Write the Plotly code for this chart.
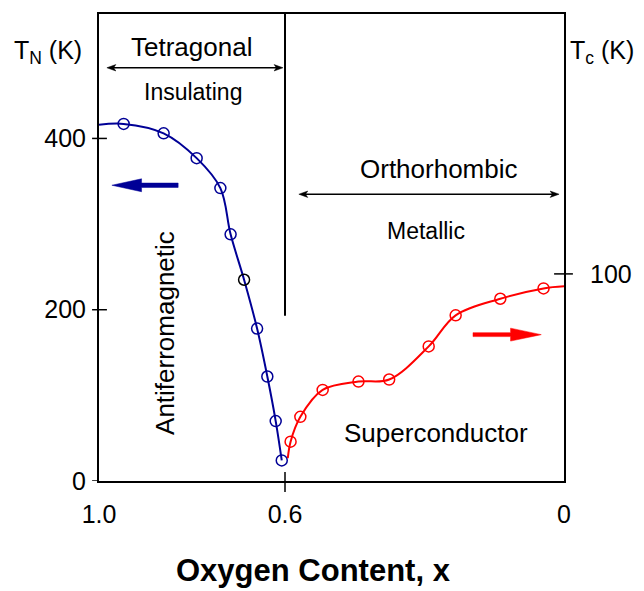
import plotly.graph_objects as go

# Neel temperature T_N of the antiferromagnetic insulator
x_afm = [0.947, 0.861, 0.790, 0.739, 0.717, 0.688, 0.660, 0.638, 0.620, 0.607]
tn_afm = [417, 406, 377, 342, 288, 235, 178, 122, 70, 24]
# guide curve for T_N, starting at the x = 1.0 edge
x_afm_curve = [1.0] + x_afm
tn_afm_curve = [416] + tn_afm

# superconducting transition temperature T_c
x_sc = [0.588, 0.567, 0.519, 0.442, 0.376, 0.291, 0.233, 0.137, 0.044]
tc_sc = [19, 31, 44, 48, 49, 65, 80, 88, 93]
# guide curve for T_c, from the onset to the x = 0 edge
x_sc_curve = [0.594] + x_sc + [0.0]
tc_sc_curve = [11] + tc_sc + [94]

# axes
x_range = [1.0, 0.0]
x_ticks = [1.0, 0.6, 0.0]
x_tick_text = ["1.0", "0.6", "0"]
phase_boundary = 0.6
tn_range = [0, 545.3]
tn_ticks = [0, 200, 400]
tc_range = [0, 225.5]
tc_ticks = [100]

NAVY = "#000096"
RED = "#ff0000"
FONT = "Liberation Sans, Arial, sans-serif"

W, H = 644, 591
ML, MR, MT, MB = 99, 75, 12, 110
PW, PH = W - ML - MR, H - MT - MB  # plot area in pixels


def dx(px):
    """horizontal pixel offset -> fraction of the x domain"""
    return px / PW


def dy(px):
    """vertical pixel offset -> fraction of the y domain"""
    return px / PH


fig = go.Figure()

# T_N curve and points (left axis)
fig.add_trace(go.Scatter(
    x=x_afm_curve, y=tn_afm_curve, mode="lines",
    line=dict(color=NAVY, width=2, shape="spline", smoothing=1),
    hoverinfo="skip", showlegend=False, yaxis="y"))
afm_colors = [NAVY] * len(x_afm)
afm_colors[5] = "black"
fig.add_trace(go.Scatter(
    x=x_afm, y=tn_afm, mode="markers",
    marker=dict(symbol="circle-open", size=11, color=afm_colors,
                line=dict(width=1.5)),
    showlegend=False, yaxis="y", cliponaxis=False))

# T_c curve and points (right axis)
fig.add_trace(go.Scatter(
    x=x_sc_curve, y=tc_sc_curve, mode="lines",
    line=dict(color=RED, width=2, shape="spline", smoothing=1),
    hoverinfo="skip", showlegend=False, yaxis="y2"))
fig.add_trace(go.Scatter(
    x=x_sc, y=tc_sc, mode="markers",
    marker=dict(symbol="circle-open", size=11, color=RED,
                line=dict(width=1.5)),
    showlegend=False, yaxis="y2", cliponaxis=False))

shapes = []
# tick marks crossing the frame
for v in tn_ticks:
    inner = 0 if v == 0 else dx(8)
    shapes.append(dict(type="line", xref="x domain", yref="y",
                       x0=-dx(7), x1=inner, y0=v, y1=v,
                       line=dict(color="black", width=1.5)))
for v in tc_ticks:
    shapes.append(dict(type="line", xref="x domain", yref="y2",
                       x0=1 - dx(10), x1=1 + dx(9), y0=v, y1=v,
                       line=dict(color="black", width=1.5)))
shapes.append(dict(type="line", xref="x", yref="y domain",
                   x0=phase_boundary, x1=phase_boundary,
                   y0=-dy(11), y1=dy(9),
                   line=dict(color="black", width=1.5)))

# tetragonal / orthorhombic boundary
shapes.append(dict(type="line", xref="x", yref="y domain",
                   x0=phase_boundary, x1=phase_boundary,
                   y0=dy(166), y1=1,
                   line=dict(color="black", width=2)))


def poly(pts):
    """closed SVG path through points given in plot-area pixels"""
    return "M" + " L".join(f"{dx(px):.4f},{dy(py):.4f}" for px, py in pts) + " Z"


def arrow_path(tip, tail, y, head_len=30, head_half=6.5, shaft_half=2.2):
    """thick one-sided arrow, all lengths in pixels"""
    s = 1 if tail > tip else -1
    base = tip + s * head_len
    return poly([(tip, y), (base, y + head_half), (base, y + shaft_half),
                 (tail, y + shaft_half), (tail, y - shaft_half),
                 (base, y - shaft_half), (base, y - head_half)])


# direction arrows pointing to the relevant axis
shapes.append(dict(type="path", xref="x domain", yref="y domain",
                   path=arrow_path(13, 80, 297),
                   fillcolor=NAVY, line=dict(color=NAVY, width=0.5)))
shapes.append(dict(type="path", xref="x domain", yref="y domain",
                   path=arrow_path(447, 378, 147, head_len=31, shaft_half=2),
                   fillcolor=RED, line=dict(color=RED, width=0.5)))


def span_arrow(x0, x1, y, head_len=9, head_half=3.2):
    """thin double-headed arrow marking the extent of a phase"""
    shapes.append(dict(type="line", xref="x domain", yref="y domain",
                       x0=dx(x0 + 3), x1=dx(x1 - 3), y0=dy(y), y1=dy(y),
                       line=dict(color="black", width=1.5)))
    for tip, base in ((x0, x0 + head_len), (x1, x1 - head_len)):
        shapes.append(dict(
            type="path", xref="x domain", yref="y domain",
            path=poly([(tip, y), (base, y + head_half),
                       (base + (tip - base) * 0.25, y),
                       (base, y - head_half)]),
            fillcolor="black", line=dict(color="black", width=0.5)))


span_arrow(8, 186, 415)
span_arrow(202, 465, 288)

annotations = []


def label(text, px, py, size, angle=0):
    annotations.append(dict(
        text=text, xref="x domain", yref="y domain", x=dx(px), y=dy(py),
        showarrow=False, xanchor="center", yanchor="middle", textangle=angle,
        font=dict(family=FONT, size=size, color="black")))


label("Tetragonal", 93, 436, 26)
label("Insulating", 95, 391, 23)
label("Orthorhombic", 344, 313, 26)
label("Metallic", 331, 251, 23)
label("Superconductor", 341, 48, 26)
label("Antiferromagnetic", 66, 149, 26, angle=-90)
label("T<sub>N</sub> (K)", -52, 431, 25)
label("T<sub>c</sub> (K)", 508, 431, 25)
label("<b>Oxygen Content, x</b>", 217, -90, 31)

axis_font = dict(family=FONT, size=25, color="black")
fig.update_layout(
    width=W, height=H,
    margin=dict(l=ML, r=MR, t=MT, b=MB, pad=0),
    plot_bgcolor="white", paper_bgcolor="white",
    showlegend=False,
    xaxis=dict(range=x_range, tickvals=x_ticks, ticktext=x_tick_text,
               ticks="outside", ticklen=10, tickcolor="rgba(0,0,0,0)",
               tickfont=axis_font, showgrid=False, zeroline=False,
               showline=True, linecolor="black", linewidth=2, mirror=True),
    yaxis=dict(range=tn_range, tickvals=tn_ticks, ticks="outside",
               ticklen=6, tickcolor="rgba(0,0,0,0)", tickfont=axis_font,
               showgrid=False, zeroline=False, showline=True,
               linecolor="black", linewidth=2, mirror=True),
    yaxis2=dict(range=tc_range, tickvals=tc_ticks, overlaying="y",
                side="right", anchor="x", ticks="outside", ticklen=20,
                tickcolor="rgba(0,0,0,0)", tickfont=axis_font,
                showgrid=False, zeroline=False, showline=False),
    shapes=shapes,
    annotations=annotations,
)

fig.write_html("out.html")
